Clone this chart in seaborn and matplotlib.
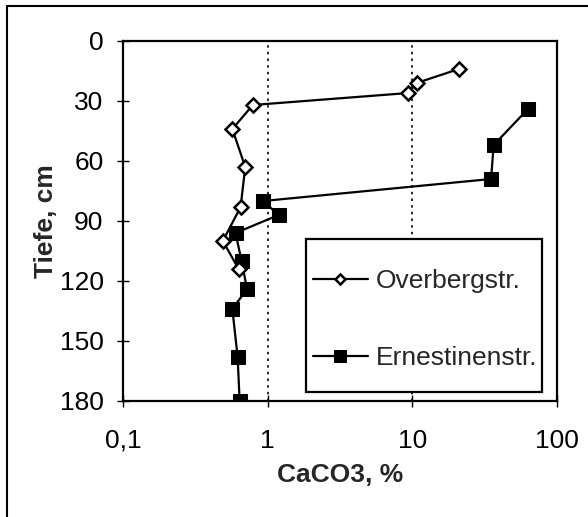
import numpy as np
import pandas as pd
import matplotlib
matplotlib.use('Agg')
import matplotlib.pyplot as plt
from matplotlib.lines import Line2D
from matplotlib.patches import Rectangle
import seaborn as sns

# ----------------- 数据 -----------------
overberg_depth = [14, 21, 26, 32, 44, 63, 83, 100, 114]
overberg_caco3 = [21, 10.7, 9.4, 0.79, 0.57, 0.70, 0.65, 0.49, 0.63]

ernestinen_depth = [34, 52, 69, 80, 87, 96, 110, 124, 134, 158, 180]
ernestinen_caco3 = [63, 36.5, 35, 0.93, 1.19, 0.60, 0.66, 0.72, 0.57, 0.62, 0.64]

x_ticks = [0.1, 1, 10, 100]
x_ticklabels = ['0,1', '1', '10', '100']
y_ticks = [0, 30, 60, 90, 120, 150, 180]

df_o = pd.DataFrame({'CaCO3': overberg_caco3, 'Tiefe': overberg_depth})
df_e = pd.DataFrame({'CaCO3': ernestinen_caco3, 'Tiefe': ernestinen_depth})

# ----------------- 样式 -----------------
sns.set_theme(style='white')
plt.rcParams['font.family'] = ['Liberation Sans', 'DejaVu Sans']
FS = 19
W, H = 588, 517

fig = plt.figure(figsize=(W / 100, H / 100), dpi=100)
ax = fig.add_axes([123 / W, 1 - 401 / H, 434 / W, 360 / H])

sns.lineplot(data=df_e, x='CaCO3', y='Tiefe', sort=False, estimator=None,
             color='black', lw=1.6, marker='s', markersize=10,
             markerfacecolor='black', markeredgecolor='black',
             label='Ernestinenstr.', ax=ax)
sns.lineplot(data=df_o, x='CaCO3', y='Tiefe', sort=False, estimator=None,
             color='black', lw=1.6, marker='D', markersize=7,
             markerfacecolor='white', markeredgecolor='black', markeredgewidth=1.8,
             label='Overbergstr.', ax=ax)

ax.set_xscale('log')
ax.set_xlim(0.1, 100)
ax.set_ylim(180, 0)
ax.set_xticks(x_ticks)
ax.set_xticklabels(x_ticklabels)
ax.xaxis.set_minor_locator(matplotlib.ticker.NullLocator())
ax.set_yticks(y_ticks)

# 虚线网格 (只在 1 和 10)
for xv in [1, 10]:
    ax.axvline(xv, color='black', ls=(0, (1.5, 2.5)), lw=1.2, zorder=0)

for s in ax.spines.values():
    s.set_color('black')
    s.set_linewidth(1.6)

ax.tick_params(axis='both', which='major', direction='inout', length=8, width=1,
               color='black', labelsize=FS, labelcolor='black', pad=10,
               bottom=True, left=True)
ax.tick_params(axis='x', pad=16)

ax.set_xlabel('CaCO3, %', fontsize=FS, fontweight='bold', labelpad=7)
ax.set_ylabel('Tiefe, cm', fontsize=FS, fontweight='bold', labelpad=1)

# 图例：无框 + 单独画的矩形框
handles, labels = ax.get_legend_handles_labels()
order = [labels.index('Overbergstr.'), labels.index('Ernestinenstr.')]
fig.add_artist(Rectangle((306 / W, 1 - 392 / H), 236 / W, 153 / H,
                         transform=fig.transFigure, facecolor='white',
                         edgecolor='black', lw=1.6, zorder=3))
leg = ax.legend([handles[i] for i in order], [labels[i] for i in order],
                loc='upper left', bbox_to_anchor=(313 / W, 1 - 269 / H),
                bbox_transform=fig.transFigure, borderaxespad=0, borderpad=0,
                fontsize=FS, frameon=False, handlelength=2.08, handletextpad=0.3,
                labelspacing=2.0, markerscale=0.8)
leg.set_zorder(4)
leg.remove()
fig.add_artist(leg)

# 外框 (左和上)
fig.add_artist(Line2D([7 / W, 7 / W], [0, 1 - 6 / H], transform=fig.transFigure,
                      color='black', lw=1.5))
fig.add_artist(Line2D([7 / W, 1], [1 - 6 / H, 1 - 6 / H], transform=fig.transFigure,
                      color='black', lw=1.5))

fig.savefig('out.png', dpi=100)
